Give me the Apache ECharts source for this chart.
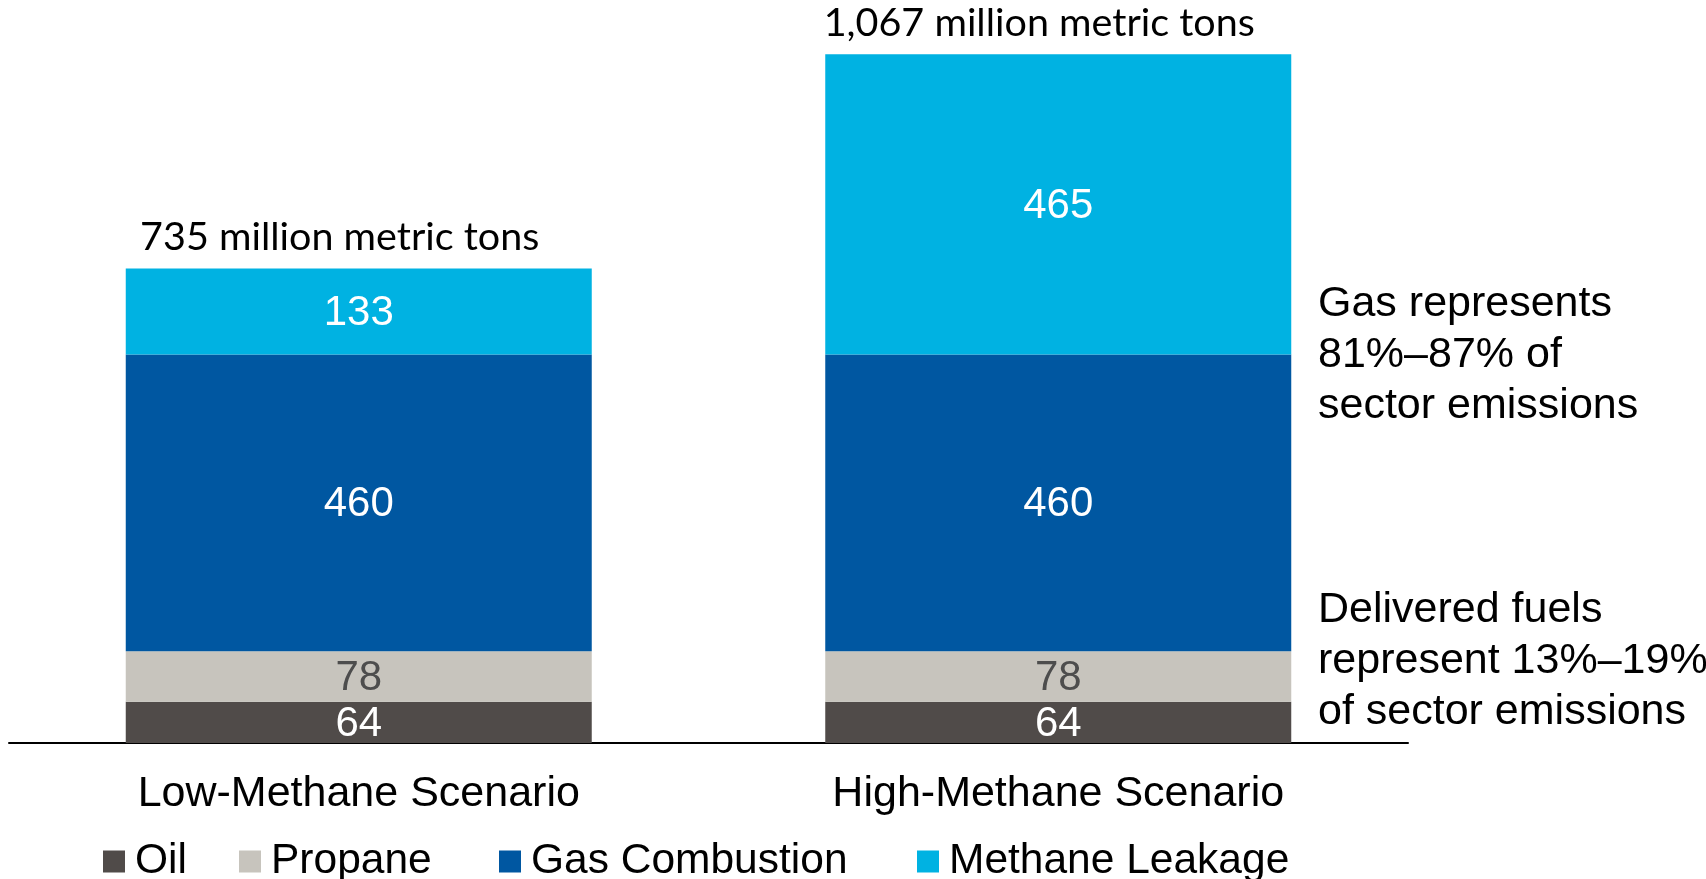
<!DOCTYPE html>
<html>
<head>
<meta charset="utf-8">
<title>Sector emissions by scenario</title>
<script src="https://cdn.jsdelivr.net/npm/echarts@6/dist/echarts.min.js"></script>
<style>
  html, body { margin: 0; padding: 0; background: #ffffff; }
  #chart { width: 1706px; height: 879px; }
</style>
</head>
<body>
<div id="chart"></div>
<script>
// Scenarios shown along the x axis
const scenarios = ['Low-Methane Scenario', 'High-Methane Scenario'];

// Emissions per source, million metric tons
const oil = [64, 64];
const propane = [78, 78];
const gasCombustion = [460, 460];
const methaneLeakage = [133, 465];

// Series names, bottom to top of each stack
const seriesNames = ['Oil', 'Propane', 'Gas Combustion', 'Methane Leakage'];

// Side notes
const gasNote = ['Gas represents', '81%\u201387% of', 'sector emissions'];
const fuelsNote = ['Delivered fuels', 'represent 13%\u201319%', 'of sector emissions'];

const colors = {
  'Oil': '#504b49',
  'Propane': '#c7c4bd',
  'Gas Combustion': '#0057a1',
  'Methane Leakage': '#00b2e2'
};
const labelColors = {
  'Oil': '#ffffff',
  'Propane': '#4d4d4d',
  'Gas Combustion': '#ffffff',
  'Methane Leakage': '#ffffff'
};
const values = [oil, propane, gasCombustion, methaneLeakage];
const totals = scenarios.map((_, i) => values.reduce((s, arr) => s + arr[i], 0));

const FONT = '"Liberation Sans", Arial, sans-serif';

const barSeries = seriesNames.map((name, k) => ({
  name: name,
  type: 'bar',
  stack: 'total',
  barWidth: 466,
  data: values[k],
  itemStyle: { color: colors[name] },
  label: {
    show: true,
    position: 'inside',
    offset: [0, 2],
    color: labelColors[name],
    fontFamily: FONT,
    fontSize: 42
  },
  emphasis: { disabled: true }
}));

// Zero-height cap on each stack that carries the total
barSeries.push({
  name: 'Total',
  type: 'bar',
  stack: 'total',
  barWidth: 466,
  data: totals.map(() => 0),
  itemStyle: { color: 'transparent' },
  label: {
    show: true,
    position: 'top',
    distance: 11,
    offset: [-19, 0],
    color: '#000000',
    fontFamily: 'Lato, "Open Sans", sans-serif',
    fontSize: 39.5,
    formatter: p => totals[p.dataIndex].toLocaleString('en-US') + ' million metric tons'
  },
  emphasis: { disabled: true },
  silent: true
});

const legendLefts = [98, 234, 494, 912];
const legends = seriesNames.map((name, k) => ({
  data: [name],
  left: legendLefts[k],
  top: 835,
  icon: 'rect',
  itemWidth: 22,
  itemHeight: 22,
  selectedMode: false,
  textStyle: {
    fontFamily: FONT,
    fontSize: 42.5,
    color: '#000000',
    padding: [0, 0, 0, 5]
  }
}));

function noteText(lines, top) {
  return {
    type: 'text',
    left: 1318,
    top: top,
    style: {
      text: lines.join('\n'),
      font: '43px ' + FONT,
      fill: '#000000',
      lineHeight: 51
    }
  };
}

const chart = echarts.init(document.getElementById('chart'), null, { renderer: 'canvas' });
chart.setOption({
  animation: false,
  backgroundColor: '#ffffff',
  grid: { left: 9, width: 1399, top: 33, bottom: 136, containLabel: false },
  legend: legends,
  xAxis: {
    type: 'category',
    data: scenarios,
    axisLine: { show: true, lineStyle: { color: '#000000', width: 2 } },
    axisTick: { show: false },
    axisLabel: {
      color: '#000000',
      fontFamily: FONT,
      fontSize: 43,
      margin: 30
    }
  },
  yAxis: {
    type: 'value',
    min: 0,
    max: 1100,
    show: false,
    splitLine: { show: false }
  },
  series: barSeries,
  graphic: [
    noteText(gasNote, 279),
    noteText(fuelsNote, 585)
  ]
});
</script>
</body>
</html>
